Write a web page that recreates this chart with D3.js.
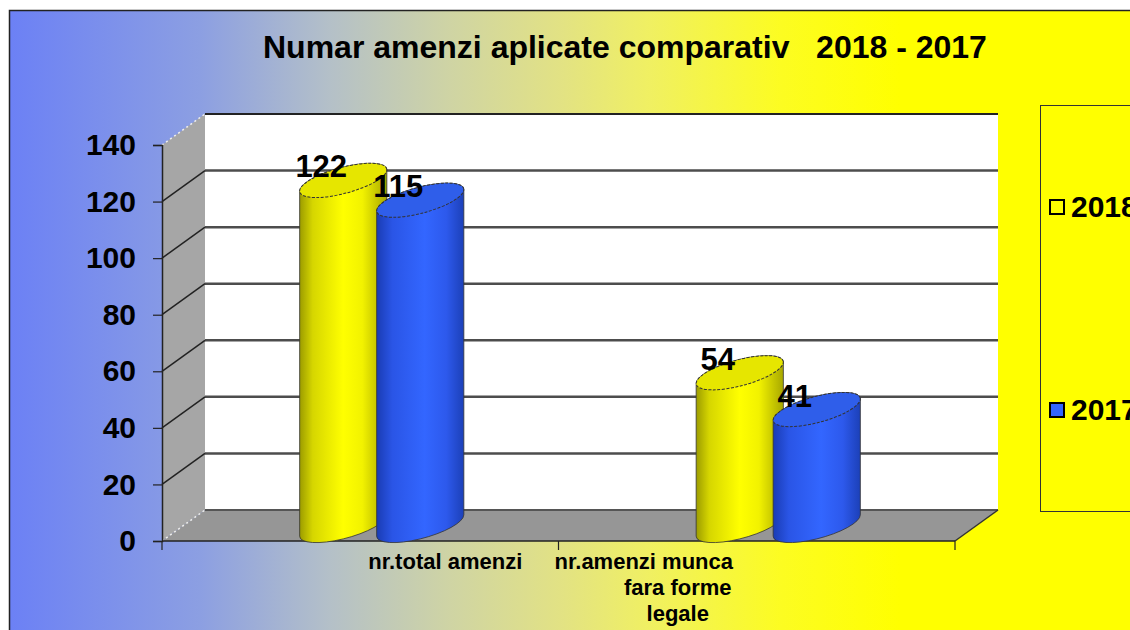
<!DOCTYPE html>
<html>
<head>
<meta charset="utf-8">
<script src="https://cdn.jsdelivr.net/npm/d3@7"></script>
<style>
  body { margin: 0; background: #fff; }
  svg { display: block; font-family: Arial, "Liberation Sans", sans-serif; }
  text { font-weight: bold; fill: #000; }
</style>
</head>
<body>
<svg width="1130" height="630"></svg>
<script>
// data
var categories = ["nr.total amenzi", "nr.amenzi munca fara forme legale"];
var categoryLines = [["nr.total amenzi"], ["nr.amenzi munca", "fara forme", "legale"]];
var seriesNames = ["2018", "2017"];
var values2018 = [122, 54];
var values2017 = [115, 41];
var yTicks = [0, 20, 40, 60, 80, 100, 120, 140];

var seriesValues = { "2018": values2018, "2017": values2017 };
var colors = { "2018": "#ffff00", "2017": "#3366ff" };

var svg = d3.select("svg");
var defs = svg.append("defs");

// background gradient
var bg = defs.append("linearGradient")
.attr("id", "bg")
.attr("gradientUnits", "userSpaceOnUse")
.attr("x1", 0).attr("y1", 0).attr("x2", 1130).attr("y2", 0);
[[0, "#6a7ff6"], [200, "#8c9fe2"], [330, "#b4c0c8"], [450, "#cfd4a4"],
 [560, "#e2e284"], [650, "#f0f062"], [780, "#fcfc22"], [900, "#ffff00"]]
.forEach(function(s) {
  bg.append("stop").attr("offset", s[0] / 1130).attr("stop-color", s[1]);
});

// cylinder gradients
var gradYellow = defs.append("linearGradient").attr("id", "g2018");
[[0, "#9c9c00"], [0.15, "#d6d600"], [0.5, "#ffff00"], [0.72, "#f2f200"], [1, "#a8a800"]]
.forEach(function(s) { gradYellow.append("stop").attr("offset", s[0]).attr("stop-color", s[1]); });
var gradBlue = defs.append("linearGradient").attr("id", "g2017");
[[0, "#1a3cb4"], [0.18, "#2a55e6"], [0.55, "#3366ff"], [0.8, "#2d59ec"], [1, "#1c40b8"]]
.forEach(function(s) { gradBlue.append("stop").attr("offset", s[0]).attr("stop-color", s[1]); });
var topColors = { "2018": "#e6e600", "2017": "#2f5eea" };

// frame
svg.append("rect")
.attr("x", 9.5).attr("y", 10.5)
.attr("width", 1130).attr("height", 630)
.attr("fill", "url(#bg)")
.attr("stroke", "#222")
.attr("stroke-width", 1.5);

// title
svg.append("text")
.attr("x", 263)
.attr("y", 58)
.attr("font-size", 32)
.attr("xml:space", "preserve")
.text("Numar amenzi aplicate comparativ   2018 - 2017");

// scales
var y = d3.scaleLinear().domain([0, 140]).range([541, 145]);
var x = d3.scaleBand().domain(categories).range([162, 955]);
var xs = d3.scaleBand().domain(seriesNames).range([-77, 77]);
var dx = 43, dy = -31;

var xl = x.range()[0], xr = x.range()[1];

// back wall
svg.append("rect")
.attr("x", xl + dx).attr("y", y(140) + dy)
.attr("width", xr - xl).attr("height", y(0) - y(140))
.attr("fill", "#fff");

// side wall
svg.append("polygon")
.attr("points", [[xl, y(140)], [xl + dx, y(140) + dy], [xl + dx, y(0) + dy], [xl, y(0)]].join(" "))
.attr("fill", "#a6a6a6");

// floor
svg.append("polygon")
.attr("points", [[xl, y(0)], [xl + dx, y(0) + dy], [xr + dx, y(0) + dy], [xr, y(0)]].join(" "))
.attr("fill", "#969696");

// gridlines
var inner = yTicks.filter(function(d) { return d > 0 && d < 140; });
svg.selectAll("line.grid-back")
.data(inner).enter().append("line")
.attr("class", "grid-back")
.attr("x1", xl + dx).attr("x2", xr + dx)
.attr("y1", function(d) { return y(d) + dy; })
.attr("y2", function(d) { return y(d) + dy; })
.attr("stroke", "#4d4d4d")
.attr("stroke-width", 2.5);

svg.selectAll("line.grid-side")
.data(inner).enter().append("line")
.attr("class", "grid-side")
.attr("x1", xl).attr("x2", xl + dx)
.attr("y1", function(d) { return y(d); })
.attr("y2", function(d) { return y(d) + dy; })
.attr("stroke", "#222")
.attr("stroke-width", 1.5);

// top edge of back wall
svg.append("line")
.attr("x1", xl + dx).attr("x2", xr + dx)
.attr("y1", y(140) + dy).attr("y2", y(140) + dy)
.attr("stroke", "#222").attr("stroke-width", 2);

// floor back edge
svg.append("line")
.attr("x1", xl + dx).attr("x2", xr + dx)
.attr("y1", y(0) + dy).attr("y2", y(0) + dy)
.attr("stroke", "#555").attr("stroke-width", 2);

// dotted edges
[140, 0].forEach(function(v) {
  svg.append("line")
  .attr("x1", xl).attr("y1", y(v))
  .attr("x2", xl + dx).attr("y2", y(v) + dy)
  .attr("stroke", "#eee")
  .attr("stroke-width", 1.5)
  .attr("stroke-dasharray", "2,3");
});

// floor right edge
svg.append("line")
.attr("x1", xr).attr("y1", y(0))
.attr("x2", xr + dx).attr("y2", y(0) + dy)
.attr("stroke", "#333").attr("stroke-width", 1.5);

// y axis
var yAxis = svg.append("g")
.attr("transform", "translate(" + xl + ",0)")
.call(d3.axisLeft(y).tickValues(yTicks).tickSize(9).tickPadding(17));
yAxis.select(".domain").attr("stroke", "#222").attr("stroke-width", 1.5);
yAxis.selectAll(".tick line").attr("stroke", "#222").attr("stroke-width", 1.2);
yAxis.selectAll("text")
.attr("font-size", 30)
.attr("font-family", "Arial, 'Liberation Sans', sans-serif")
.attr("font-weight", "bold")
.attr("fill", "#000");

// x axis
svg.append("line")
.attr("x1", xl).attr("x2", xr)
.attr("y1", y(0)).attr("y2", y(0))
.attr("stroke", "#222").attr("stroke-width", 1.5);
var bounds = categories.map(function(c) { return x(c); }).concat([xr]);
svg.selectAll("line.xtick")
.data(bounds).enter().append("line")
.attr("class", "xtick")
.attr("x1", function(d) { return d; }).attr("x2", function(d) { return d; })
.attr("y1", y(0)).attr("y2", y(0) + 9)
.attr("stroke", "#222").attr("stroke-width", 1.2);

// category labels
var lineOffsets = [[85], [-113, -79, -79]];
categoryLines.forEach(function(lines, i) {
  var cx = x(categories[i]) + x.bandwidth() / 2;
  lines.forEach(function(t, j) {
    svg.append("text")
    .attr("x", cx + lineOffsets[i][j])
    .attr("y", 569 + j * 26)
    .attr("text-anchor", "middle")
    .attr("font-size", 22)
    .text(t);
  });
});

// cylinders
var a = 45, b = 13, rot = -15;
var th = rot * Math.PI / 180;
function ellPt(cx, cy, t) {
  return [cx + a * Math.cos(t) * Math.cos(th) - b * Math.sin(t) * Math.sin(th),
          cy + a * Math.cos(t) * Math.sin(th) + b * Math.sin(t) * Math.cos(th)];
}
var t0 = Math.atan(-(b / a) * Math.tan(th));
function extremes(cx, cy) {
  var p1 = ellPt(cx, cy, t0), p2 = ellPt(cx, cy, t0 + Math.PI);
  return p1[0] < p2[0] ? [p1, p2] : [p2, p1];
}

var bars = [];
categories.forEach(function(c, i) {
  seriesNames.forEach(function(s) {
    bars.push({ cat: c, series: s, value: seriesValues[s][i] });
  });
});

var barG = svg.append("g");
bars.forEach(function(d) {
  var cx = x(d.cat) + x.bandwidth() / 2 + xs(d.series) + xs.bandwidth() / 2 + dx / 2;
  var cyTop = y(d.value) + dy / 2;
  var cyBot = y(0) + dy / 2;
  var et = extremes(cx, cyTop), eb = extremes(cx, cyBot);
  var g = barG.append("g");
  g.append("path")
  .attr("d", "M" + et[0] + " L" + eb[0] +
    " A" + a + " " + b + " " + rot + " 0 0 " + eb[1] +
    " L" + et[1] +
    " A" + a + " " + b + " " + rot + " 0 0 " + et[0] + " Z")
  .attr("fill", "url(#g" + d.series + ")")
  .attr("stroke", "#333")
  .attr("stroke-width", 0.8);
  g.append("ellipse")
  .attr("rx", a).attr("ry", b)
  .attr("transform", "translate(" + cx + "," + cyTop + ") rotate(" + rot + ")")
  .attr("fill", topColors[d.series])
  .attr("stroke", "#333")
  .attr("stroke-width", 1)
  .attr("stroke-dasharray", "3,1.5");
  d.cx = cx; d.cy = cyTop;
});

// value labels
svg.selectAll("text.val")
.data(bars).enter().append("text")
.attr("class", "val")
.attr("x", function(d) { return d.cx - 22; })
.attr("y", function(d) { return d.cy - 3; })
.attr("text-anchor", "middle")
.attr("font-size", 31)
.text(function(d) { return d.value; });

// legend
var leg = svg.append("g");
leg.append("rect")
.attr("x", 1040.5).attr("y", 105.5)
.attr("width", 120).attr("height", 406)
.attr("fill", "#ffff00")
.attr("stroke", "#333")
.attr("stroke-width", 1);
var legY = d3.scalePoint().domain(seriesNames).range([207, 410]);
seriesNames.forEach(function(s) {
  leg.append("rect")
  .attr("x", 1050).attr("y", legY(s) - 7)
  .attr("width", 14).attr("height", 14)
  .attr("fill", colors[s])
  .attr("stroke", "#000")
  .attr("stroke-width", 2);
  leg.append("text")
  .attr("x", 1071).attr("y", legY(s) + 10)
  .attr("font-size", 30)
  .text(s);
});
</script>
</body>
</html>
